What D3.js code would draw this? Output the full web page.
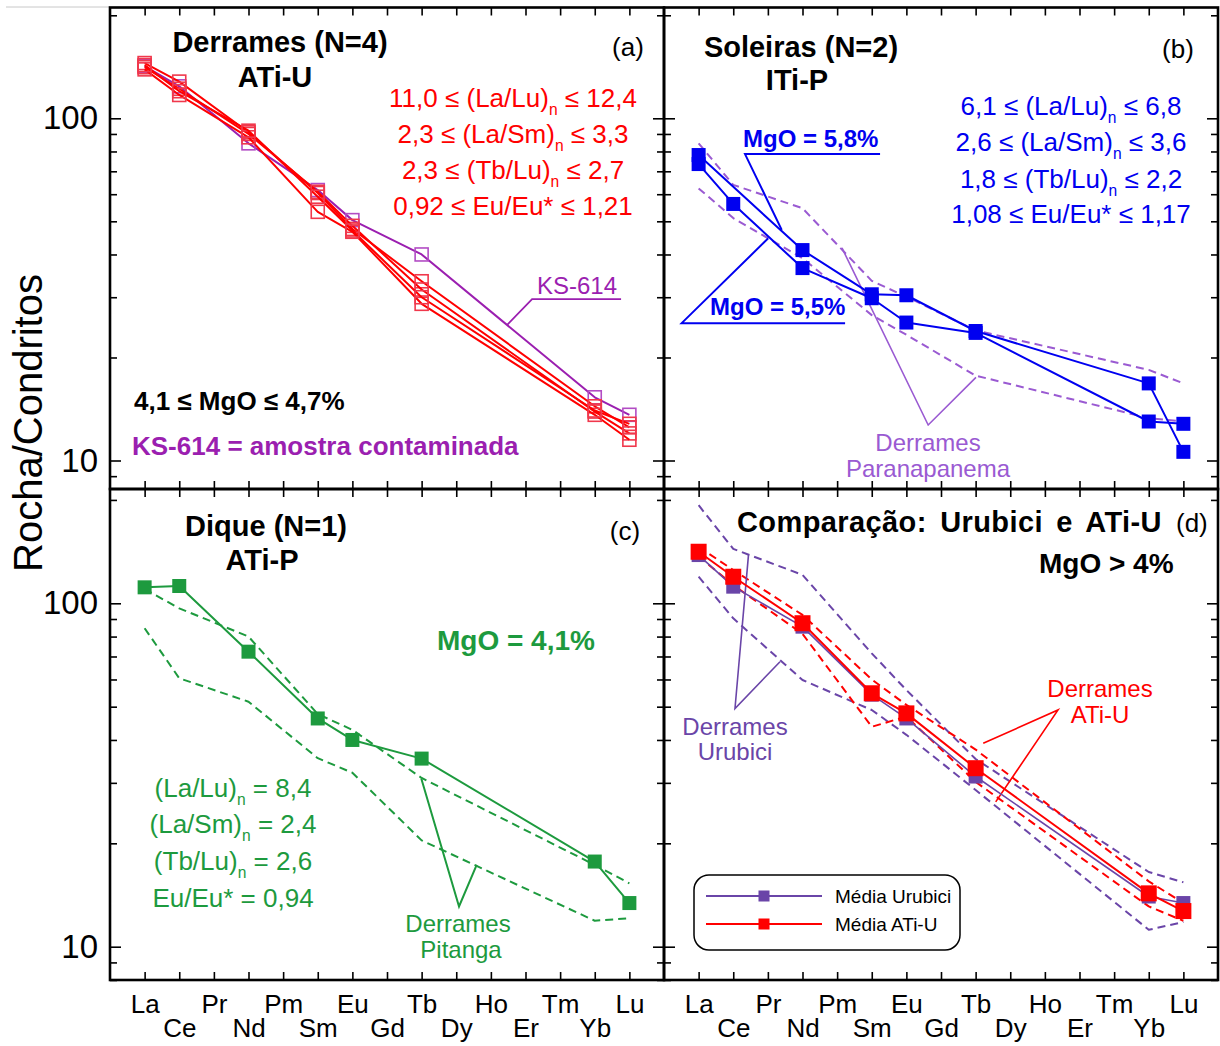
<!DOCTYPE html>
<html>
<head>
<meta charset="utf-8">
<script src="https://cdn.jsdelivr.net/npm/d3@7"></script>
<style>
  body { margin: 0; background: #fff; }
  text { font-family: "Liberation Sans", Arial, sans-serif; white-space: pre; }
</style>
</head>
<body>
<svg id="chart" width="1220" height="1046"></svg>
<script>
// REE order on the x axis and the elements that were analysed
const elements = ["La", "Ce", "Pr", "Nd", "Pm", "Sm", "Eu", "Gd", "Tb", "Dy", "Ho", "Er", "Tm", "Yb", "Lu"];
const plotted = ["La", "Ce", "Nd", "Sm", "Eu", "Tb", "Yb", "Lu"];

const majorTicks = [10, 100];
const minorTicks = [2, 3, 4, 5, 6, 7, 8, 9, 20, 30, 40, 50, 60, 70, 80, 90, 200];

// (a) Derrames ATi-U, values in plotted order
const atiU1 = [145, 128, 91, 60.5, 47.5, 33.4, 14.4, 12.5];
const atiU2 = [141, 122, 90, 61, 48.5, 31.6, 13.9, 12.0];
const atiU3 = [139, 117, 88, 53.3, 46.6, 28.7, 13.6, 11.5];
const atiU4 = [143, 120, 92, 59, 47, 30.0, 14.0, 12.8];
const ks614 = [142, 124, 84.5, 61.7, 50.4, 40.0, 15.3, 13.6];

// (b) Soleiras ITi-P + Paranapanema field
const sill58 = [78.1, null, 41.2, 30.6, 30.4, 23.9, 16.8, 10.6];
const sill55 = [73.5, 56.2, 36.5, 29.8, 25.3, 23.6, 13.0, 12.8];
const paranaUpper = [84.5, 63.9, 54.6, 33.5, 30.1, 24.0, 18.4, 16.8];
const paranaLower = [62.4, 51.1, 39.0, 26.6, 23.3, 17.7, 13.3, 13.0];

// (c) Dique ATi-P + Pitanga field
const dike = [111.3, 112.3, 72.3, 46.2, 40.0, 35.3, 17.7, 13.4];
const pitangaUpper = [110, 96.7, 80, 47.6, 42.8, 31.0, 17.3, 15.3];
const pitangaLower = [84.6, 60.5, 51.7, 35.4, 32.1, 20.4, 11.9, 12.1];

// (d) Urubici vs ATi-U
const urubiciMean = [138.2, 111.8, 85.5, 54.2, 46.2, 31.3, 14.0, 13.4];
const atiUMean = [141.3, 119.5, 87.5, 54.7, 47.8, 33.1, 14.3, 12.7];
const urubiciMax = [193, 144, 121, 71.5, 55.9, 35.2, 16.5, 15.4];
const urubiciMin = [119.5, 90.4, 59.8, 48.9, 41.4, 28.6, 11.2, 11.8];
const atiUMax = [146, 125, 92.5, 60, 50.6, 37.5, 15.5, 13.4];
const atiUMin = [137, 113, 81.5, 43.7, 46.8, 30.2, 13.1, 11.9];

const RED = "#ff0000", PURPLE_A = "#9b1fb0", BLUE = "#0000f0", LAVENDER = "#9a5ad2",
      GREEN = "#1d9a3e", PURPLE_D = "#6a45a8";

const svg = d3.select("#chart");

svg.append("line").attr("x1", 6).attr("x2", 110).attr("y1", 7).attr("y2", 7)
    .attr("stroke", "#c8c8c8").attr("stroke-width", 1);

/**
 * Builds one panel: scales, inward ticks on all four sides, frame, labels
 */
function makePanel(p) {
    const x = d3.scaleLinear().domain([-1, 15]).range([p.x0, p.x1]);
    const y = d3.scaleLog().domain([10, 100]).range([p.y10, p.y100]);
    y.domain([y.invert(p.y1), y.invert(p.y0)]).range([p.y1, p.y0]);
    const [lo, hi] = y.domain();
    const minor = minorTicks.filter(v => v > lo && v < hi);
    const g = svg.append("g");

    const tickSets = [
        [d3.axisRight, p.x0, minor, 7], [d3.axisRight, p.x0, majorTicks, 11],
        [d3.axisLeft, p.x1, minor, 7], [d3.axisLeft, p.x1, majorTicks, 11]
    ];
    tickSets.forEach(([ax, tx, vals, len]) => {
        g.append("g").attr("transform", `translate(${tx},0)`)
            .call(ax(y).tickValues(vals).tickSize(len).tickFormat(""));
    });
    g.append("g").attr("transform", `translate(0,${p.y0})`)
        .call(d3.axisBottom(x).tickValues(d3.range(15)).tickSize(8).tickFormat(""));
    g.append("g").attr("transform", `translate(0,${p.y1})`)
        .call(d3.axisTop(x).tickValues(d3.range(15)).tickSize(8).tickFormat(""));
    g.selectAll(".domain").remove();
    g.selectAll(".tick line").attr("stroke", "#000").attr("stroke-width", 1.6);

    if (p.yLabels) {
        const ya = g.append("g").attr("transform", `translate(${p.x0},0)`)
            .call(d3.axisLeft(y).tickValues(majorTicks).tickSize(0).tickPadding(12).tickFormat(d3.format("d")));
        ya.select(".domain").remove();
        ya.selectAll("text").attr("font-size", 33).attr("fill", "#000")
            .attr("font-family", "Liberation Sans, Arial, sans-serif");
    }
    if (p.xLabels) {
        const xa = g.append("g").attr("transform", `translate(0,${p.y1})`)
            .call(d3.axisBottom(x).tickValues(d3.range(15)).tickSize(0).tickFormat(i => elements[i]));
        xa.select(".domain").remove();
        xa.selectAll("text").attr("font-size", 26).attr("fill", "#000").attr("dy", 0)
            .attr("y", i => i % 2 === 0 ? 33 : 57)
            .attr("font-family", "Liberation Sans, Arial, sans-serif");
    }

    const layer = svg.append("g");
    svg.append("rect").attr("x", p.x0).attr("y", p.y0)
        .attr("width", p.x1 - p.x0).attr("height", p.y1 - p.y0)
        .attr("fill", "none").attr("stroke", "#000").attr("stroke-width", 2.6);
    return { g: layer, x, y };
}

/**
 * Draws one REE pattern (line + optional square markers)
 */
function pattern(ctx, values, o) {
    const pts = plotted.map((el, i) => [elements.indexOf(el), values[i]])
        .filter(d => d[1] != null);
    const line = d3.line().x(d => ctx.x(d[0])).y(d => ctx.y(d[1]));
    ctx.g.append("path").attr("d", line(pts)).attr("fill", "none")
        .attr("stroke", o.color).attr("stroke-width", o.width || 2)
        .attr("stroke-linejoin", "round")
        .attr("stroke-dasharray", o.dash || null);
    if (o.marker) {
        const s = o.marker;
        ctx.g.append("g").selectAll("rect").data(pts).join("rect")
            .attr("x", d => ctx.x(d[0]) - s / 2).attr("y", d => ctx.y(d[1]) - s / 2)
            .attr("width", s).attr("height", s)
            .attr("fill", o.open ? "none" : o.markerColor || o.color)
            .attr("stroke", o.open ? o.markerColor || o.color : "none")
            .attr("stroke-width", 1.6);
    }
}

/**
 * Leader line given in data coordinates [element index, value]
 */
function leader(ctx, pts, color, width) {
    ctx.g.append("path")
        .attr("d", d3.line().x(d => ctx.x(d[0])).y(d => ctx.y(d[1]))(pts))
        .attr("fill", "none").attr("stroke", color).attr("stroke-width", width || 1.6);
}

/**
 * Text with "_" prefixed parts rendered as subscripts
 */
function label(x, y, parts, o) {
    const t = svg.append("text").attr("x", x).attr("y", y)
        .attr("font-size", o.size).attr("fill", o.color || "#000")
        .attr("font-weight", o.bold ? "bold" : null)
        .attr("text-anchor", o.anchor || "start");
    if (o.ls) t.attr("letter-spacing", o.ls);
    if (o.ws) t.attr("word-spacing", o.ws);
    let shift = 0;
    [].concat(parts).forEach(part => {
        const sub = part.startsWith("_");
        const dy = (sub ? o.size * 0.3 : 0) - shift;
        shift = sub ? o.size * 0.3 : 0;
        t.append("tspan").attr("dy", dy || null)
            .attr("font-size", sub ? o.size * 0.6 : null)
            .text(sub ? part.slice(1) : part);
    });
    return t;
}

const pa = makePanel({ x0: 110, x1: 664, y0: 7.5, y1: 489, y100: 118.3, y10: 460.5, yLabels: true });
const pb = makePanel({ x0: 664, x1: 1218, y0: 7.5, y1: 489, y100: 118.3, y10: 460.5 });
const pc = makePanel({ x0: 110, x1: 664, y0: 489, y1: 980, y100: 603.3, y10: 946.7, yLabels: true, xLabels: true });
const pd = makePanel({ x0: 664, x1: 1218, y0: 489, y1: 980, y100: 603.3, y10: 946.7, xLabels: true });

// y axis title
svg.append("text").attr("transform", "translate(42,423) rotate(-90)")
    .attr("text-anchor", "middle").attr("font-size", 40).text("Rocha/Condritos");

// ---- (a) ----
pattern(pa, ks614, { color: PURPLE_A, marker: 13, open: true, markerColor: "#b24cc4" });
[atiU1, atiU2, atiU3, atiU4].forEach(s =>
    pattern(pa, s, { color: RED, marker: 13, open: true, markerColor: "#f0384c" }));
leader(pa, [[13.76, 29.6], [11.19, 29.6], [10.47, 24.9]], PURPLE_A, 1.8);

label(280, 52, "Derrames (N=4)", { size: 29, bold: true, anchor: "middle" });
label(275, 87, "ATi-U", { size: 29, bold: true, anchor: "middle" });
label(628, 56, "(a)", { size: 26, anchor: "middle" });
label(513, 107, ["11,0 ≤ (La/Lu)", "_n", " ≤ 12,4"], { size: 26, color: RED, anchor: "middle" });
label(513, 143, ["2,3 ≤ (La/Sm)", "_n", " ≤ 3,3"], { size: 26, color: RED, anchor: "middle" });
label(513, 179, ["2,3 ≤ (Tb/Lu)", "_n", " ≤ 2,7"], { size: 26, color: RED, anchor: "middle" });
label(513, 215, "0,92 ≤ Eu/Eu* ≤ 1,21", { size: 26, color: RED, anchor: "middle" });
label(577, 294, "KS-614", { size: 24, color: PURPLE_A, anchor: "middle" });
label(134, 410, "4,1 ≤ MgO ≤ 4,7%", { size: 26, bold: true });
label(132, 455, "KS-614 = amostra contaminada", { size: 26, bold: true, color: PURPLE_A });

// ---- (b) ----
pattern(pb, paranaUpper, { color: LAVENDER, dash: "8,5" });
pattern(pb, paranaLower, { color: LAVENDER, dash: "8,5" });
leader(pb, [[4.14, 41.8], [6.63, 12.7], [8.01, 17.5]], LAVENDER, 1.6);
pattern(pb, sill58, { color: BLUE, marker: 14 });
pattern(pb, sill55, { color: BLUE, marker: 14 });
leader(pb, [[5.24, 78.6], [1.34, 78.6], [2.40, 47.2]], BLUE, 2);
leader(pb, [[4.23, 25.2], [-0.49, 25.2], [2.01, 44.6]], BLUE, 2);

label(801, 57, "Soleiras (N=2)", { size: 29, bold: true, anchor: "middle" });
label(797, 90, "ITi-P", { size: 29, bold: true, anchor: "middle" });
label(1178, 58, "(b)", { size: 26, anchor: "middle" });
label(743, 147, "MgO = 5,8%", { size: 24, bold: true, color: BLUE });
label(710, 315, "MgO = 5,5%", { size: 24, bold: true, color: BLUE });
label(1071, 115, ["6,1 ≤ (La/Lu)", "_n", " ≤ 6,8"], { size: 26, color: BLUE, anchor: "middle" });
label(1071, 151, ["2,6 ≤ (La/Sm)", "_n", " ≤ 3,6"], { size: 26, color: BLUE, anchor: "middle" });
label(1071, 188, ["1,8 ≤ (Tb/Lu)", "_n", " ≤ 2,2"], { size: 26, color: BLUE, anchor: "middle" });
label(1071, 223, "1,08 ≤ Eu/Eu* ≤ 1,17", { size: 26, color: BLUE, anchor: "middle" });
label(928, 451, "Derrames", { size: 24, color: LAVENDER, anchor: "middle" });
label(928, 477, "Paranapanema", { size: 24, color: LAVENDER, anchor: "middle" });

// ---- (c) ----
pattern(pc, pitangaUpper, { color: GREEN, dash: "8,5" });
pattern(pc, pitangaLower, { color: GREEN, dash: "8,5" });
pattern(pc, dike, { color: GREEN, marker: 14 });
leader(pc, [[7.99, 30.9], [9.08, 13.1], [9.59, 17.3]], GREEN, 2);

label(266, 536, "Dique (N=1)", { size: 29, bold: true, anchor: "middle" });
label(262, 570, "ATi-P", { size: 29, bold: true, anchor: "middle" });
label(625, 540, "(c)", { size: 26, anchor: "middle" });
label(437, 650, "MgO = 4,1%", { size: 28, bold: true, color: GREEN });
label(233, 797, ["(La/Lu)", "_n", " = 8,4"], { size: 26, color: GREEN, anchor: "middle" });
label(233, 833, ["(La/Sm)", "_n", " = 2,4"], { size: 26, color: GREEN, anchor: "middle" });
label(233, 870, ["(Tb/Lu)", "_n", " = 2,6"], { size: 26, color: GREEN, anchor: "middle" });
label(233, 907, "Eu/Eu* = 0,94", { size: 26, color: GREEN, anchor: "middle" });
label(458, 932, "Derrames", { size: 24, color: GREEN, anchor: "middle" });
label(461, 958, "Pitanga", { size: 24, color: GREEN, anchor: "middle" });

// ---- (d) ----
pattern(pd, urubiciMax, { color: PURPLE_D, dash: "8,5" });
pattern(pd, urubiciMin, { color: PURPLE_D, dash: "8,5" });
pattern(pd, atiUMax, { color: RED, dash: "8,5" });
pattern(pd, atiUMin, { color: RED, dash: "8,5" });
leader(pd, [[1.44, 138.3], [1.05, 49.4], [2.35, 67.6]], PURPLE_D, 1.6);
leader(pd, [[8.22, 39.1], [10.38, 48.9], [8.58, 26.4]], RED, 1.6);
pattern(pd, urubiciMean, { color: PURPLE_D, width: 1.6, marker: 14 });
pattern(pd, atiUMean, { color: RED, width: 2, marker: 16 });

label(737, 532, "Comparação: Urubici e ATi-U", { size: 29, bold: true, ls: 0.4, ws: 5 });
label(1176, 532, "(d)", { size: 26 });
label(1039, 573, "MgO > 4%", { size: 28, bold: true });
label(735, 735, "Derrames", { size: 24, color: PURPLE_D, anchor: "middle" });
label(735, 760, "Urubici", { size: 24, color: PURPLE_D, anchor: "middle" });
label(1100, 697, "Derrames", { size: 24, color: RED, anchor: "middle" });
label(1100, 723, "ATi-U", { size: 24, color: RED, anchor: "middle" });

// legend
const legendItems = [
    { name: "Média Urubici", color: PURPLE_D, y: 896 },
    { name: "Média ATi-U", color: RED, y: 924 }
];
svg.append("rect").attr("x", 694).attr("y", 875).attr("width", 266).attr("height", 75)
    .attr("rx", 15).attr("fill", "#fff").attr("stroke", "#000").attr("stroke-width", 1.5);
legendItems.forEach(it => {
    svg.append("line").attr("x1", 706).attr("x2", 822).attr("y1", it.y).attr("y2", it.y)
        .attr("stroke", it.color).attr("stroke-width", 1.8);
    svg.append("rect").attr("x", 758.5).attr("y", it.y - 5.5).attr("width", 11).attr("height", 11)
        .attr("fill", it.color);
    label(835, it.y + 7, it.name, { size: 19 });
});
</script>
</body>
</html>
